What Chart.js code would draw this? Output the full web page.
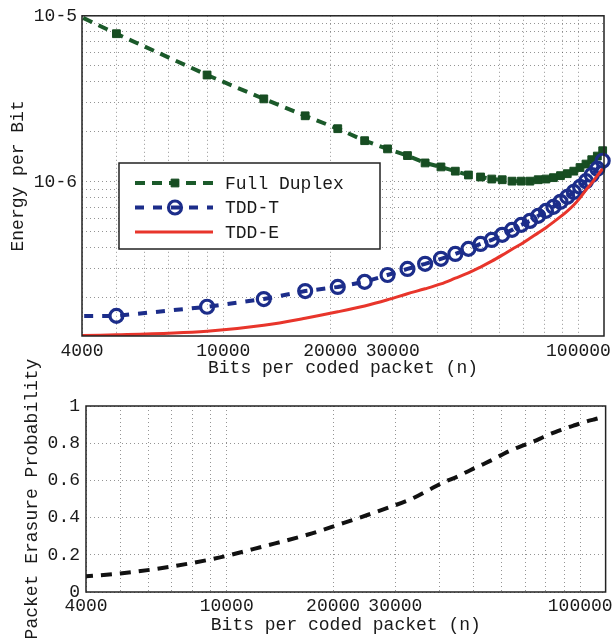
<!DOCTYPE html>
<html>
<head>
<meta charset="utf-8">
<script src="https://cdn.jsdelivr.net/npm/chart.js@4.4.1/dist/chart.umd.min.js"></script>
<style>
    html, body { margin: 0; padding: 0; background: #fff; }
    #wrap { position: relative; width: 616px; height: 644px; overflow: hidden; }
    canvas { position: absolute; left: 0; }
    #energyChart { top: 0; }
    #erasureChart { top: 340px; }
</style>
</head>
<body>
<div id="wrap">
    <canvas id="energyChart" width="616" height="380"></canvas>
    <canvas id="erasureChart" width="616" height="304"></canvas>
</div>
<script>
((document, Chart) => {
    'use strict';

    // Bits per coded packet (n); the first point sits left of the axis and is clipped
    const packetBits = [1000, 5000, 9000, 13000, 17000, 21000, 25000, 29000, 33000, 37000,
        41000, 45000, 49000, 53000, 57000, 61000, 65000, 69000, 73000, 77000,
        81000, 85000, 89000, 93000, 97000, 101000, 105000, 109000, 113000, 117000];

    // Energy per bit
    const fullDuplex = [4.0e-5, 7.8e-6, 4.4e-6, 3.16e-6, 2.5e-6, 2.09e-6, 1.77e-6, 1.58e-6, 1.44e-6, 1.30e-6,
        1.23e-6, 1.16e-6, 1.10e-6, 1.07e-6, 1.04e-6, 1.03e-6, 1.01e-6, 1.01e-6, 1.01e-6, 1.03e-6,
        1.04e-6, 1.06e-6, 1.09e-6, 1.12e-6, 1.16e-6, 1.22e-6, 1.28e-6, 1.36e-6, 1.43e-6, 1.54e-6];
    const tddT = [1.52e-7, 1.56e-7, 1.77e-7, 1.97e-7, 2.20e-7, 2.33e-7, 2.50e-7, 2.75e-7, 2.99e-7, 3.21e-7,
        3.44e-7, 3.68e-7, 3.95e-7, 4.23e-7, 4.47e-7, 4.80e-7, 5.14e-7, 5.51e-7, 5.82e-7, 6.24e-7,
        6.69e-7, 7.07e-7, 7.58e-7, 8.12e-7, 8.70e-7, 9.33e-7, 1.01e-6, 1.10e-6, 1.20e-6, 1.34e-6];
    const tddE = [1.15e-7, 1.20e-7, 1.26e-7, 1.37e-7, 1.51e-7, 1.65e-7, 1.79e-7, 1.95e-7, 2.12e-7, 2.27e-7,
        2.43e-7, 2.63e-7, 2.83e-7, 3.07e-7, 3.33e-7, 3.62e-7, 3.93e-7, 4.23e-7, 4.58e-7, 4.93e-7,
        5.30e-7, 5.72e-7, 6.17e-7, 6.67e-7, 7.25e-7, 8.01e-7, 8.95e-7, 9.86e-7, 1.09e-6, 1.20e-6];

    // Packet erasure probability
    const erasureProb = [0.04, 0.1, 0.175, 0.25, 0.309, 0.366, 0.414, 0.457, 0.497, 0.545,
        0.589, 0.621, 0.656, 0.686, 0.715, 0.745, 0.769, 0.788, 0.806, 0.825,
        0.844, 0.86, 0.874, 0.887, 0.898, 0.909, 0.919, 0.927, 0.935, 0.944];

    // Ticks / grid
    const xGridValues = [4000, 5000, 6000, 7000, 8000, 9000, 10000, 20000, 30000, 40000,
        50000, 60000, 70000, 80000, 90000, 100000];
    const xTickLabels = ['4000', '10000', '20000', '30000', '100000'];
    const energyGridValues = [2e-7, 3e-7, 4e-7, 5e-7, 6e-7, 7e-7, 8e-7, 9e-7, 1e-6,
        2e-6, 3e-6, 4e-6, 5e-6, 6e-6, 7e-6, 8e-6, 9e-6, 1e-5];
    const energyTickValues = [1e-6, 1e-5];
    const energyTickLabels = ['10-6', '10-5'];
    const erasureTickValues = [0, 0.2, 0.4, 0.6, 0.8, 1];
    const erasureTickLabels = ['0', '0.2', '0.4', '0.6', '0.8', '1'];

    const textColor = '#1a1a1a';
    const gridColor = 'rgba(60, 60, 60, 0.55)';
    const fontFamily = '"Liberation Mono", "Courier New", monospace';

    Chart.defaults.font.family = fontFamily;
    Chart.defaults.font.size = 18;
    Chart.defaults.color = textColor;

    function toPoints(values) {
        return packetBits.map((n, i) => ({x: n, y: values[i]}));
    }

    // Box around the plot area, like a matlab axes
    const framePlugin = {
        id: 'frame',
        afterDatasetsDraw(chart) {
            const {ctx, chartArea: a} = chart;
            ctx.save();
            ctx.strokeStyle = '#222';
            ctx.lineWidth = 1.5;
            ctx.strokeRect(a.left, a.top, a.right - a.left, a.bottom - a.top);
            ctx.restore();
        }
    };

    // Legend box inside the plot
    const boxLegendPlugin = {
        id: 'boxLegend',
        afterDraw(chart) {
            const {ctx} = chart;
            const box = {x: 119, y: 163, w: 261, h: 86};
            ctx.save();
            ctx.fillStyle = '#fff';
            ctx.fillRect(box.x, box.y, box.w, box.h);
            ctx.strokeStyle = '#222';
            ctx.lineWidth = 1.5;
            ctx.strokeRect(box.x, box.y, box.w, box.h);

            chart.data.datasets.forEach((ds, i) => {
                const y = box.y + 20 + i * 24.5;
                ctx.setLineDash(ds.borderDash || []);
                ctx.strokeStyle = ds.borderColor;
                ctx.lineWidth = ds.borderWidth;
                ctx.beginPath();
                ctx.moveTo(135, y);
                ctx.lineTo(213, y);
                ctx.stroke();
                ctx.setLineDash([]);

                if (ds.pointRadius) {
                    ctx.lineWidth = ds.pointBorderWidth;
                    ctx.strokeStyle = ds.pointBorderColor;
                    ctx.fillStyle = ds.pointBackgroundColor;
                    ctx.beginPath();
                    if (ds.pointStyle === 'rect') {
                        const s = ds.pointRadius * Math.SQRT1_2;
                        ctx.rect(175 - s, y - s, 2 * s, 2 * s);
                    } else {
                        ctx.arc(175, y, ds.pointRadius, 0, Math.PI * 2);
                    }
                    ctx.fill();
                    ctx.stroke();
                }

                ctx.fillStyle = textColor;
                ctx.font = '18px ' + fontFamily;
                ctx.textBaseline = 'middle';
                ctx.fillText(ds.label, 225, y + 1);
            });
            ctx.restore();
        }
    };

    function xScale(height, labelPad, titlePad) {
        return {
            type: 'logarithmic',
            min: 4000,
            max: 118000,
            afterBuildTicks: (axis) => {
                axis.ticks = xGridValues.map(v => ({value: v}));
            },
            afterFit: (axis) => {
                axis.height = height;
            },
            grid: {color: gridColor, drawTicks: false},
            border: {display: false, dash: [1, 3]},
            ticks: {
                autoSkip: false,
                maxRotation: 0,
                padding: labelPad,
                callback: (value) => {
                    const s = String(value);
                    return xTickLabels.includes(s) ? s : '';
                }
            },
            title: {
                display: true,
                text: 'Bits per coded packet (n)',
                padding: {top: 0, bottom: titlePad}
            }
        };
    }

    // Top: energy per bit
    new Chart(document.getElementById('energyChart'), {
        type: 'line',
        data: {
            datasets: [{
                label: 'Full Duplex',
                data: toPoints(fullDuplex),
                borderColor: '#1b5a2a',
                borderWidth: 4,
                borderDash: [10, 7],
                pointStyle: 'rect',
                pointRadius: 5.5,
                pointBorderWidth: 1,
                pointBackgroundColor: '#174d22',
                pointBorderColor: '#174d22',
                order: 2
            }, {
                label: 'TDD-T',
                data: toPoints(tddT),
                borderColor: '#1c2d8a',
                borderWidth: 4,
                borderDash: [9, 9],
                pointStyle: 'circle',
                pointRadius: 6.5,
                pointBorderWidth: 3.2,
                pointBackgroundColor: 'rgba(0, 0, 0, 0)',
                pointBorderColor: '#1c2d8a',
                order: 1
            }, {
                label: 'TDD-E',
                data: toPoints(tddE),
                borderColor: '#e8352b',
                borderWidth: 3,
                pointRadius: 0,
                cubicInterpolationMode: 'monotone',
                order: 0
            }]
        },
        options: {
            responsive: false,
            animation: false,
            clip: {left: 0, top: 0, right: 8, bottom: 0},
            layout: {padding: {left: 0, top: 15, right: 12, bottom: 0}},
            plugins: {
                legend: {display: false},
                tooltip: {enabled: false}
            },
            scales: {
                x: xScale(44, 4, 1),
                y: {
                    type: 'logarithmic',
                    min: 1.18e-7,
                    max: 1e-5,
                    afterBuildTicks: (axis) => {
                        axis.ticks = energyGridValues.map(v => ({value: v}));
                    },
                    afterFit: (axis) => {
                        axis.width = 82;
                    },
                    grid: {color: gridColor, drawTicks: false},
                    border: {display: false, dash: [1, 3]},
                    ticks: {
                        autoSkip: false,
                        padding: 5,
                        callback: (value) => {
                            const i = energyTickValues.indexOf(value);
                            return i >= 0 ? energyTickLabels[i] : '';
                        }
                    },
                    title: {
                        display: true,
                        text: 'Energy per Bit',
                        padding: {top: 7, bottom: 0}
                    }
                }
            }
        },
        plugins: [framePlugin, boxLegendPlugin]
    });

    // Bottom: packet erasure probability
    new Chart(document.getElementById('erasureChart'), {
        type: 'line',
        data: {
            datasets: [{
                label: 'Packet Erasure Probability',
                data: toPoints(erasureProb),
                borderColor: '#111',
                borderWidth: 4,
                borderDash: [11, 8],
                pointRadius: 0,
                cubicInterpolationMode: 'monotone'
            }]
        },
        options: {
            responsive: false,
            animation: false,
            clip: {left: 0, top: 0, right: 0, bottom: 0},
            layout: {padding: {left: 0, top: 66, right: 8, bottom: 0}},
            plugins: {
                legend: {display: false},
                tooltip: {enabled: false}
            },
            scales: {
                x: xScale(52, 3, 8),
                y: {
                    type: 'linear',
                    min: 0,
                    max: 1,
                    afterBuildTicks: (axis) => {
                        axis.ticks = erasureTickValues.map(v => ({value: v}));
                    },
                    afterFit: (axis) => {
                        axis.width = 86;
                    },
                    grid: {color: gridColor, drawTicks: false},
                    border: {display: false, dash: [1, 3]},
                    ticks: {
                        autoSkip: false,
                        padding: 6,
                        callback: (value) => {
                            const i = erasureTickValues.indexOf(value);
                            return i >= 0 ? erasureTickLabels[i] : '';
                        }
                    },
                    title: {
                        display: true,
                        text: 'Packet Erasure Probability',
                        padding: {top: 21, bottom: 0}
                    }
                }
            }
        },
        plugins: [framePlugin]
    });
})(document, Chart);
</script>
</body>
</html>
